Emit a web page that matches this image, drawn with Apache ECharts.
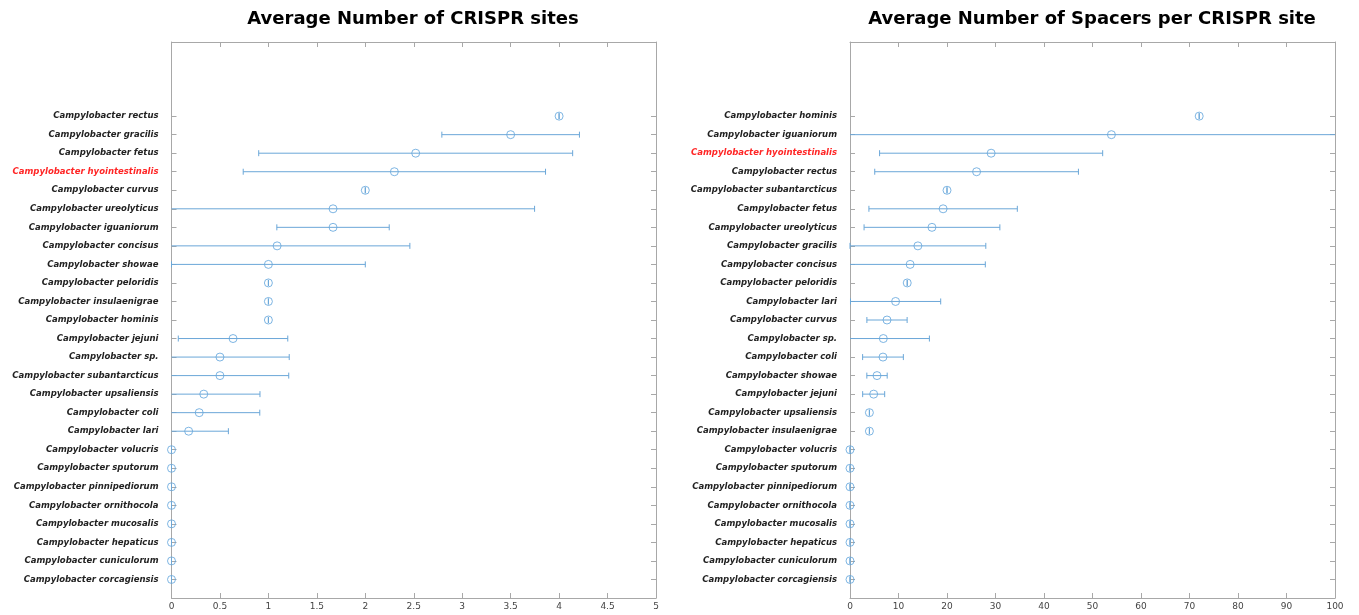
<!DOCTYPE html>
<html>
<head>
<meta charset="utf-8">
<script src="https://cdn.jsdelivr.net/npm/echarts@6/dist/echarts.min.js"></script>
<style>html,body{margin:0;padding:0;background:#fff;}#c{width:1359px;height:615px;}</style>
</head>
<body>
<div id="c"></div>
<script>
// ---- Data (top to bottom) ----
const sitesNames = ['Campylobacter rectus','Campylobacter gracilis','Campylobacter fetus','Campylobacter hyointestinalis','Campylobacter curvus','Campylobacter ureolyticus','Campylobacter iguaniorum','Campylobacter concisus','Campylobacter showae','Campylobacter peloridis','Campylobacter insulaenigrae','Campylobacter hominis','Campylobacter jejuni','Campylobacter sp.','Campylobacter subantarcticus','Campylobacter upsaliensis','Campylobacter coli','Campylobacter lari','Campylobacter volucris','Campylobacter sputorum','Campylobacter pinnipediorum','Campylobacter ornithocola','Campylobacter mucosalis','Campylobacter hepaticus','Campylobacter cuniculorum','Campylobacter corcagiensis'];
const sitesMean = [4.0, 3.5, 2.52, 2.3, 2.0, 1.667, 1.667, 1.09, 1.0, 1.0, 1.0, 1.0, 0.635, 0.5, 0.5, 0.333, 0.286, 0.177, 0, 0, 0, 0, 0, 0, 0, 0];
const sitesErr  = [0, 0.71, 1.62, 1.56, 0, 2.08, 0.58, 1.37, 1.0, 0, 0, 0, 0.565, 0.715, 0.71, 0.58, 0.625, 0.41, 0, 0, 0, 0, 0, 0, 0, 0];

const spacerNames = ['Campylobacter hominis','Campylobacter iguaniorum','Campylobacter hyointestinalis','Campylobacter rectus','Campylobacter subantarcticus','Campylobacter fetus','Campylobacter ureolyticus','Campylobacter gracilis','Campylobacter concisus','Campylobacter peloridis','Campylobacter lari','Campylobacter curvus','Campylobacter sp.','Campylobacter coli','Campylobacter showae','Campylobacter jejuni','Campylobacter upsaliensis','Campylobacter insulaenigrae','Campylobacter volucris','Campylobacter sputorum','Campylobacter pinnipediorum','Campylobacter ornithocola','Campylobacter mucosalis','Campylobacter hepaticus','Campylobacter cuniculorum','Campylobacter corcagiensis'];
const spacerMean = [72, 53.9, 29.1, 26.1, 20, 19.2, 16.9, 14.0, 12.4, 11.8, 9.4, 7.63, 6.87, 6.8, 5.57, 4.88, 4.0, 4.0, 0, 0, 0, 0, 0, 0, 0, 0];
const spacerErr  = [0, 56, 23.0, 21.0, 0, 15.3, 14.0, 14.0, 15.5, 0, 9.3, 4.15, 9.5, 4.2, 2.1, 2.27, 0, 0, 0, 0, 0, 0, 0, 0, 0, 0];

const sitesTicks = [0, 0.5, 1, 1.5, 2, 2.5, 3, 3.5, 4, 4.5, 5];
const spacerTicks = [0, 10, 20, 30, 40, 50, 60, 70, 80, 90, 100];

const highlight = 'Campylobacter hyointestinalis';
const rowVals = sitesNames.map((_, i) => sitesNames.length - i); // 26..1
const Y_MAX = 30;

const LINE = '#6ba7d8';
const MARK = '#5fa4dc';
const AXIS = '#a8a8a8';

function yLabelFormatter(names) {
  return function (v) {
    const idx = names.length - v;
    const n = names[idx];
    if (!n) return '';
    return n === highlight ? '{r|' + n + '}' : '{n|' + n + '}';
  };
}
const richLbl = {
  n: {color: '#222', fontFamily: 'DejaVu Sans', fontWeight: 'bold', fontStyle: 'italic', fontSize: 8.5},
  r: {color: '#ff2626', fontFamily: 'DejaVu Sans', fontWeight: 'bold', fontStyle: 'italic', fontSize: 8.5}
};

function makeX(gridIndex, ticks, position, showLabel) {
  return {
    type: 'value', gridIndex, position,
    min: ticks[0], max: ticks[ticks.length - 1], interval: ticks[1] - ticks[0],
    axisLine: {show: true, onZero: false, lineStyle: {color: AXIS, width: 1}},
    axisTick: {show: true, inside: true, length: 5, lineStyle: {color: AXIS}},
    splitLine: {show: false},
    axisLabel: {show: showLabel, color: '#444', fontFamily: 'DejaVu Sans', fontSize: 9, margin: 4, showMaxLabel: true, showMinLabel: true}
  };
}
function makeY(gridIndex, names, position, showLabel) {
  return {
    type: 'value', gridIndex, position, min: 0, max: Y_MAX, interval: 1,
    axisLine: {show: true, onZero: false, lineStyle: {color: AXIS, width: 1}},
    axisTick: {show: true, inside: true, length: 5, lineStyle: {color: AXIS}, customValues: rowVals},
    splitLine: {show: false},
    axisLabel: {show: showLabel, margin: 13, customValues: rowVals, formatter: yLabelFormatter(names), rich: richLbl}
  };
}

function errData(mean, err) {
  return mean.map((m, i) => [rowVals[i], m - err[i], m + err[i]]);
}
function pointData(mean) {
  return mean.map((m, i) => [m, rowVals[i]]);
}

function renderErr(params, api) {
  const y = api.value(0);
  const lo = api.value(1), hi = api.value(2);
  const a = api.coord([lo, y]);
  const b = api.coord([hi, y]);
  const cs = params.coordSys;
  const x0 = cs.x, x1 = cs.x + cs.width;
  const ax = Math.max(x0, Math.min(x1, a[0]));
  const bx = Math.max(x0, Math.min(x1, b[0]));
  const style = {stroke: LINE, lineWidth: 1, fill: null};
  const children = [{type: 'line', shape: {x1: ax, y1: a[1], x2: bx, y2: b[1]}, style}];
  const cap = 3;
  if (a[0] >= x0 && a[0] <= x1) children.push({type: 'line', shape: {x1: a[0], y1: a[1] - cap, x2: a[0], y2: a[1] + cap}, style});
  if (b[0] >= x0 && b[0] <= x1) children.push({type: 'line', shape: {x1: b[0], y1: b[1] - cap, x2: b[0], y2: b[1] + cap}, style});
  return {type: 'group', children};
}

const markStyle = {color: 'rgba(0,0,0,0)', borderColor: MARK, borderWidth: 1};

const chart = echarts.init(document.getElementById('c'), null, {renderer: 'canvas'});
chart.setOption({
  animation: false,
  backgroundColor: '#fff',
  title: [
    {text: 'Average Number of CRISPR sites', left: 413, top: 10, textAlign: 'center', padding: 0,
     textStyle: {fontFamily: 'DejaVu Sans', fontWeight: 'bold', fontSize: 18, color: '#000'}},
    {text: 'Average Number of Spacers per CRISPR site', left: 1092, top: 10, textAlign: 'center', padding: 0,
     textStyle: {fontFamily: 'DejaVu Sans', fontWeight: 'bold', fontSize: 18, color: '#000'}}
  ],
  grid: [
    {left: 171.5, top: 42, width: 484.5, height: 556, containLabel: false},
    {left: 850, top: 42, width: 485, height: 556, containLabel: false}
  ],
  xAxis: [
    makeX(0, sitesTicks, 'bottom', true),
    makeX(0, sitesTicks, 'top', false),
    makeX(1, spacerTicks, 'bottom', true),
    makeX(1, spacerTicks, 'top', false)
  ],
  yAxis: [
    makeY(0, sitesNames, 'left', true),
    makeY(0, sitesNames, 'right', false),
    makeY(1, spacerNames, 'left', true),
    makeY(1, spacerNames, 'right', false)
  ],
  series: [
    {type: 'custom', xAxisIndex: 0, yAxisIndex: 0, renderItem: renderErr, data: errData(sitesMean, sitesErr),
     encode: {x: [1, 2], y: 0}, clip: false, silent: true, z: 3},
    {type: 'scatter', xAxisIndex: 0, yAxisIndex: 0, data: pointData(sitesMean), symbol: 'circle', symbolSize: 8,
     itemStyle: markStyle, clip: false, silent: true, z: 2},
    {type: 'custom', xAxisIndex: 2, yAxisIndex: 2, renderItem: renderErr, data: errData(spacerMean, spacerErr),
     encode: {x: [1, 2], y: 0}, clip: false, silent: true, z: 3},
    {type: 'scatter', xAxisIndex: 2, yAxisIndex: 2, data: pointData(spacerMean), symbol: 'circle', symbolSize: 8,
     itemStyle: markStyle, clip: false, silent: true, z: 2}
  ]
});
</script>
</body>
</html>
